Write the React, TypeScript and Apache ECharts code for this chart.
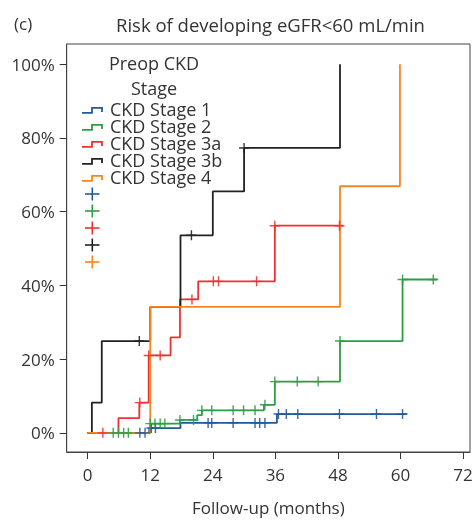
import React, { useEffect, useRef } from "react";
import * as echarts from "echarts";

const stageNames = ["CKD Stage 1", "CKD Stage 2", "CKD Stage 3a", "CKD Stage 3b", "CKD Stage 4"];
const stageColors = ["#23599b", "#2d9e45", "#ef3030", "#222222", "#f7851f"];
const legendTitle = ["Preop CKD", "Stage"];

// Step curves: event times (months) and cumulative risk (%)
const stage1Times = [0, 11.8, 17.8, 36.3, 61.2];
const stage1Risk = [0, 1.3, 2.7, 5.1, 5.1];
const stage1Censor = [10.0, 11.0, 12.2, 13.0, 23.1, 23.8, 27.9, 32.1, 33.0, 34.0, 36.6, 38.1, 40.3, 48.3, 55.4, 60.4];

const stage2Times = [0, 12.0, 17.7, 21.0, 21.9, 33.8, 35.9, 48.4, 60.4, 67.0];
const stage2Risk = [0, 2.5, 3.5, 4.8, 6.1, 7.6, 13.9, 24.9, 41.6, 41.6];
const stage2Censor = [4.9, 5.9, 6.9, 7.8, 12.0, 12.9, 13.9, 14.8, 17.7, 20.3, 21.9, 23.8, 27.9, 29.9, 32.1, 34.0, 35.9, 40.2, 44.2, 48.4, 60.4, 66.3];

const stage3aTimes = [0, 5.9, 9.9, 11.7, 15.9, 17.7, 21.2, 35.9, 49.0];
const stage3aRisk = [0, 4.0, 8.2, 21.0, 25.9, 36.2, 41.1, 56.2, 56.2];
const stage3aCensor = [2.9, 10.0, 11.7, 13.9, 20.0, 24.1, 25.1, 32.4, 35.9, 48.3];

const stage3bTimes = [0, 0.8, 2.7, 12.0, 17.8, 24.0, 30.0, 48.4];
const stage3bRisk = [0, 8.2, 24.9, 34.2, 53.6, 65.5, 77.3, 100];
const stage3bCensor = [9.9, 19.9, 30.0];

const stage4Times = [0, 12.0, 48.4, 59.9];
const stage4Risk = [0, 34.2, 66.9, 100];
const stage4Censor: number[] = [];

const xTicks = [0, 12, 24, 36, 48, 60, 72];
const yTicks = [0, 20, 40, 60, 80, 100];

const curves = [
  { times: stage1Times, risk: stage1Risk, censor: stage1Censor },
  { times: stage2Times, risk: stage2Risk, censor: stage2Censor },
  { times: stage3aTimes, risk: stage3aRisk, censor: stage3aCensor },
  { times: stage3bTimes, risk: stage3bRisk, censor: stage3bCensor },
  { times: stage4Times, risk: stage4Risk, censor: stage4Censor },
];

function riskAt(times: number[], risk: number[], t: number) {
  let v = risk[0];
  for (let i = 0; i < times.length; i++) if (times[i] <= t + 1e-9) v = risk[i];
  return v;
}

const FONT = "Open Sans";
const CROSS = "path://M4.3,0h1.4v10h-1.4zM0,4.3h10v1.4h-10z";

export default function App() {
  const ref = useRef<HTMLDivElement>(null);
  useEffect(() => {
    if (!ref.current) return;
    const chart = echarts.init(ref.current, undefined, { renderer: "svg" });

    const lineSeries = curves.map((c, i) => ({
      type: "line",
      name: stageNames[i],
      step: "end",
      showSymbol: false,
      symbol: "none",
      data: c.times.map((t, k) => [t, c.risk[k]]),
      lineStyle: { color: stageColors[i], width: 1.8 },
      itemStyle: { color: stageColors[i] },
      z: 2,
    }));
    const censorSeries = curves.map((c, i) => ({
      type: "scatter",
      name: stageNames[i] + " censored",
      symbol: CROSS,
      symbolSize: [10, 10],
      data: c.censor.map((t) => [t, riskAt(c.times, c.risk, t)]),
      itemStyle: { color: stageColors[i], opacity: 0.9 },
      z: 3,
    }));

    const graphics: any[] = [];
    legendTitle.forEach((txt, k) => {
      graphics.push({
        type: "text",
        x: 154,
        y: 63 + k * 25,
        style: { text: txt, fontFamily: FONT, fontSize: 18, lineHeight: 18, fill: "#333", align: "center", verticalAlign: "middle" },
      });
    });
    stageNames.forEach((nm, i) => {
      const yc = 108.5 + i * 17;
      graphics.push({
        type: "polyline",
        shape: { points: [[82, yc + 4.4], [92, yc + 4.4], [92, yc - 0.6], [102, yc - 0.6], [102, yc + 3.4]] },
        style: { stroke: stageColors[i], lineWidth: 1.8, fill: null },
      });
      graphics.push({
        type: "text",
        x: 110,
        y: yc,
        style: { text: nm, fontFamily: FONT, fontSize: 18, lineHeight: 15, fill: "#333", verticalAlign: "middle" },
      });
    });
    stageNames.forEach((_, i) => {
      const yc = 194 + i * 17;
      graphics.push({
        type: "line",
        shape: { x1: 85, y1: yc, x2: 99.5, y2: yc },
        style: { stroke: stageColors[i], lineWidth: 1.6 },
      });
      graphics.push({
        type: "line",
        shape: { x1: 92.3, y1: yc - 6.5, x2: 92.3, y2: yc + 6.5 },
        style: { stroke: stageColors[i], lineWidth: 1.6 },
      });
    });

    chart.setOption({
      animation: false,
      textStyle: { fontFamily: FONT },
      title: [
        { text: "(c)", left: 9, top: 10, textStyle: { fontFamily: FONT, fontSize: 17, fontWeight: "normal", color: "#333" } },
        {
          text: "Risk of developing eGFR<60 mL/min",
          left: 111,
          top: 10,
          textStyle: { fontFamily: FONT, fontSize: 18.5, fontWeight: "normal", color: "#333" },
        },
      ],
      grid: { left: 66.7, right: 6, top: 44, bottom: 61.5, show: true, borderColor: "#444", borderWidth: 1, backgroundColor: "#fff" },
      xAxis: {
        type: "value",
        min: -4.03,
        max: 73.34,
        splitLine: { show: false },
        axisLine: { show: true, onZero: false, lineStyle: { color: "#444" } },
        axisTick: { show: true, customValues: xTicks, length: 7, lineStyle: { color: "#333" } },
        axisLabel: { customValues: xTicks, fontSize: 17, color: "#333", margin: 14, fontFamily: FONT },
        name: "Follow-up (months)",
        nameLocation: "middle",
        nameGap: 47,
        nameTextStyle: { fontSize: 17, color: "#333", fontFamily: FONT },
      },
      yAxis: {
        type: "value",
        min: -5.2,
        max: 105.5,
        splitLine: { show: false },
        axisLine: { show: true, onZero: false, lineStyle: { color: "#444" } },
        axisTick: { show: true, customValues: yTicks, length: 7, lineStyle: { color: "#333" } },
        axisLabel: { customValues: yTicks, formatter: "{value}%", fontSize: 17, color: "#333", margin: 12, fontFamily: FONT },
      },
      graphic: graphics,
      series: [...lineSeries, ...censorSeries],
    });
    return () => chart.dispose();
  }, []);
  return <div ref={ref} style={{ position: "fixed", left: 0, top: 0, width: 476, height: 521 }} />;
}
